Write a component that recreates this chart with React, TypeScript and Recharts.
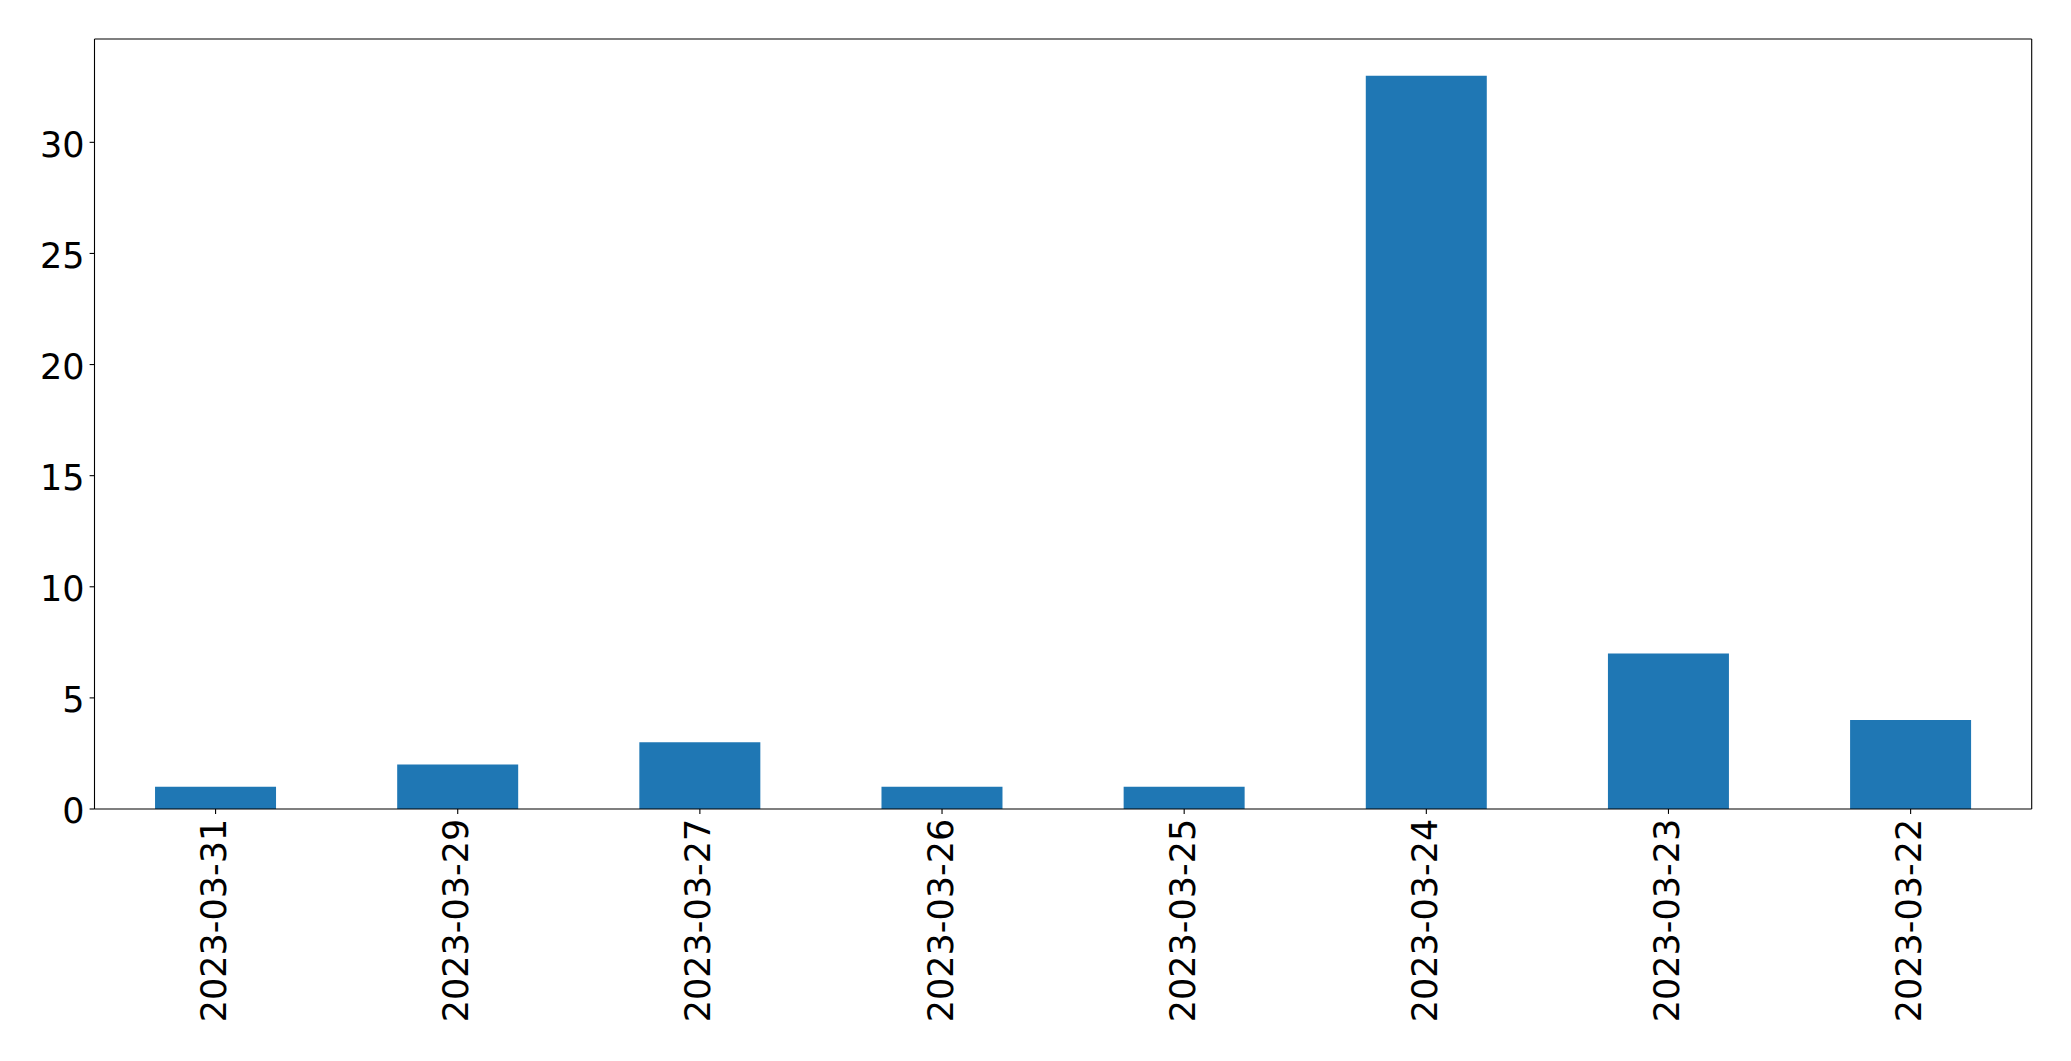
import React from "react";
import { BarChart, Bar, XAxis, YAxis } from "recharts";

const categories = ["2023-03-31", "2023-03-29", "2023-03-27", "2023-03-26", "2023-03-25", "2023-03-24", "2023-03-23", "2023-03-22"];
const counts = [1, 2, 3, 1, 1, 33, 7, 4];
const yTicks = [0, 5, 10, 15, 20, 25, 30];

const data = categories.map((c, i) => ({ date: c, count: counts[i] }));

const FONT = "DejaVu Sans";
const FS = 35;

const XTick = (props: any) => {
  const { x, y, payload } = props;
  const ay = y;
  return (
    <text
      x={x}
      y={ay}
      transform={`rotate(-90, ${x}, ${ay})`}
      textAnchor="end"
      dy="0.3em"
      fill="#000"
      fontSize={FS}
      fontFamily={FONT}
    >
      {payload.value}
    </text>
  );
};

const YTick = (props: any) => {
  const { x, y, payload } = props;
  return (
    <text
      x={x}
      y={y}
      textAnchor="end"
      dy="0.41em"
      fill="#000"
      fontSize={FS}
      fontFamily={FONT}
    >
      {payload.value}
    </text>
  );
};

export default function App() {
  return (
    <div style={{ position: "absolute", left: 0, top: 0, background: "#fff" }}>
      <BarChart
        width={2071}
        height={1061}
        data={data}
        margin={{ top: 38, right: 38.3, bottom: 0, left: 0 }}
        barCategoryGap="25%"
      >
        <XAxis
          dataKey="date"
          height={252}
          tick={<XTick />}
          tickSize={4.9}
          tickMargin={4.9}
          interval={0}
          axisLine={{ stroke: "#000", strokeWidth: 1.1 }}
          tickLine={{ stroke: "#000", strokeWidth: 1.1 }}
        />
        <XAxis
          xAxisId="top"
          dataKey="date"
          orientation="top"
          height={1}
          tick={false}
          tickLine={false}
          axisLine={{ stroke: "#000", strokeWidth: 1.1 }}
        />
        <YAxis
          width={94.5}
          domain={[0, 34.65]}
          ticks={yTicks}
          tickSize={4.9}
          tickMargin={5}
          axisLine={{ stroke: "#000", strokeWidth: 1.1 }}
          tickLine={{ stroke: "#000", strokeWidth: 1.1 }}
          tick={<YTick />}
        />
        <YAxis
          yAxisId="right"
          orientation="right"
          width={1}
          domain={[0, 34.65]}
          tick={false}
          tickLine={false}
          axisLine={{ stroke: "#000", strokeWidth: 1.1 }}
        />
        <Bar dataKey="count" fill="#1f77b4" isAnimationActive={false} />
      </BarChart>
    </div>
  );
}
